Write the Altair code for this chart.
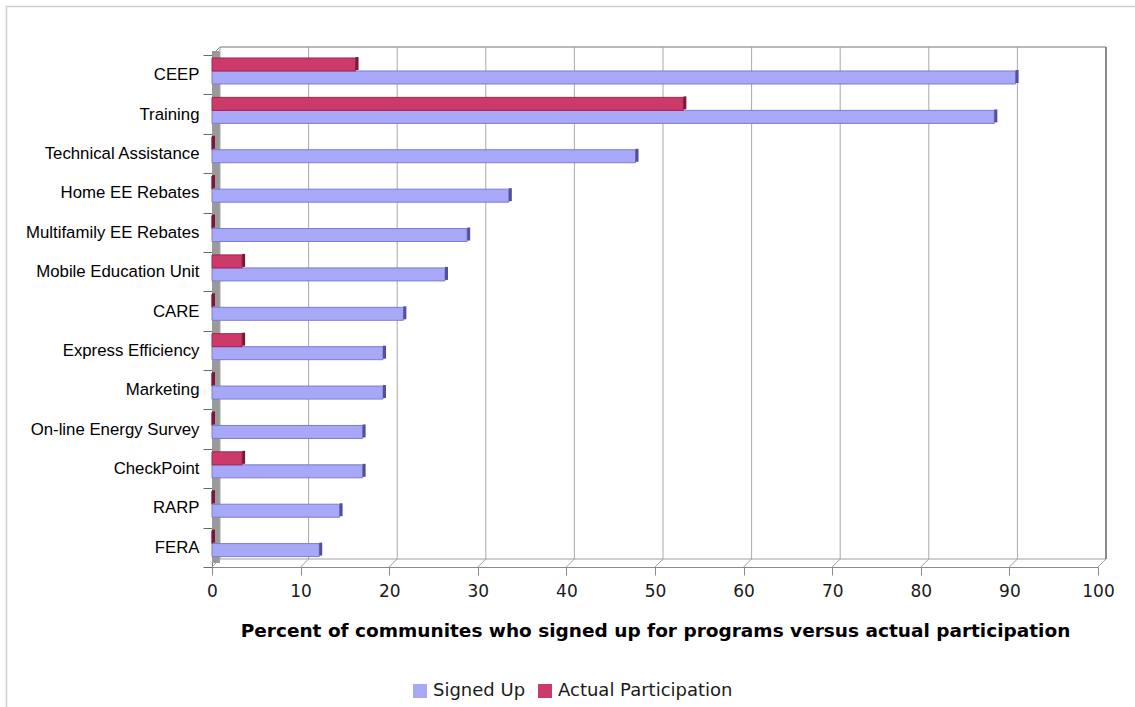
import altair as alt
import pandas as pd

# ---------------- data ----------------
programs = [
    "CEEP", "Training", "Technical Assistance", "Home EE Rebates",
    "Multifamily EE Rebates", "Mobile Education Unit", "CARE",
    "Express Efficiency", "Marketing", "On-line Energy Survey",
    "CheckPoint", "RARP", "FERA",
]
signed_up = [90.7, 88.3, 47.8, 33.5, 28.8, 26.3, 21.6, 19.3, 19.3, 17.0, 17.0, 14.4, 12.1]
actual = [16.2, 53.2, 0, 0, 0, 3.4, 0, 3.4, 0, 0, 3.4, 0, 0]
series = ["Signed Up", "Actual Participation"]
x_ticks = [0, 10, 20, 30, 40, 50, 60, 70, 80, 90, 100]
x_title = "Percent of communites who signed up for programs versus actual participation"

# ---------------- styling ----------------
BLUE, BLUE_EDGE, BLUE_CAP = "#a8a8f8", "#7c7cd2", "#50509c"
RED, RED_EDGE, RED_CAP = "#cc3a6a", "#a02550", "#7a1838"
W, H, D = 886, 512, 8  # plot width, height, 3-D depth in px

df = pd.DataFrame({
    "program": programs * 2,
    "value": signed_up + actual,
    "series": [series[0]] * len(programs) + [series[1]] * len(programs),
})
ticks_df = pd.DataFrame({"v": x_ticks})
frame_df = pd.DataFrame({"lo": [0], "hi": [100]})

xscale = alt.Scale(domain=[0, 100], nice=False, zero=True)
yscale = alt.Scale(paddingInner=0, paddingOuter=0)

xaxis = alt.Axis(
    values=x_ticks, title=x_title, grid=False, labelFlush=False, labelOverlap=False,
    labelFont="DejaVu Sans", labelFontSize=17, labelColor="#1a1a1a", labelPadding=8,
    tickSize=8, tickColor="#8a8a8a", domainColor="#8a8a8a",
    titleFont="DejaVu Sans", titleFontSize=18.5, titleFontWeight="bold", titleColor="#000000",
    titleY=69, titleBaseline="alphabetic",
)
yaxis = alt.Axis(
    title=None, grid=False, tickBand="extent", labelFont="Liberation Sans",
    labelFontSize=16.8, labelColor="#000000", labelPadding=4, labelLimit=300,
    tickSize=9, tickColor="#6a6a6a", domainColor="#7a7a7a",
)
legend = alt.Legend(
    orient="none", legendX=199, legendY=627, direction="horizontal", title=None,
    labelFont="DejaVu Sans", labelFontSize=18, labelColor="#1a1a1a", labelLimit=400,
    symbolType="square", symbolSize=196, symbolStrokeWidth=0, symbolOpacity=1,
    labelOffset=4, columnPadding=10, padding=0,
)
color = alt.Color("series:N", scale=alt.Scale(domain=series, range=[BLUE, RED]), legend=legend)


def X(field):
    return alt.X(field, scale=xscale, axis=xaxis)


def Y():
    return alt.Y("program:N", sort=programs, scale=yscale, axis=yaxis)


one = alt.Chart(frame_df)

# outer light frame
border = one.mark_rect(filled=False, stroke="#cfcfcf", strokeWidth=1.5).encode(
    x=alt.value(-205.5), x2=alt.value(1000), y=alt.value(-48.5), y2=alt.value(700)
)
# grey left wall
wall = one.mark_rect(color="#9a9a9a", x2Offset=D).encode(
    x=X("lo:Q"), x2="lo:Q", y=alt.value(-D / 2), y2=alt.value(H - D / 2),
)
wall_top = one.mark_rule(color="#8a8a8a", x2Offset=D).encode(
    x=X("lo:Q"), x2="lo:Q", y=alt.value(0), y2=alt.value(-D)
)
# back-wall grid lines
grid = alt.Chart(ticks_df).mark_rule(color="#a8a8a8", strokeWidth=1, xOffset=D).encode(
    x=X("v:Q"), y=alt.value(-D), y2=alt.value(H - D)
)
back_top = one.mark_rule(color="#a0a0a0", strokeWidth=1.5, xOffset=D, x2Offset=D).encode(
    x=X("lo:Q"), x2="hi:Q", y=alt.value(-D)
)
back_floor = one.mark_rule(color="#a0a0a0", strokeWidth=1, xOffset=D, x2Offset=D).encode(
    x=X("lo:Q"), x2="hi:Q", y=alt.value(H - D)
)
right_edge = one.mark_rule(color="#8a8a8a", strokeWidth=2, xOffset=D).encode(
    x=X("hi:Q"), y=alt.value(-D), y2=alt.value(H - D)
)
floor_diag = alt.Chart(ticks_df).mark_rule(color="#a0a0a0", strokeWidth=1, x2Offset=D).encode(
    x=X("v:Q"), x2="v:Q", y=alt.value(H), y2=alt.value(H - D)
)

base = alt.Chart(df)
blue = base.transform_filter(alt.datum.series == series[0]).mark_bar(
    size=13, yOffset=2.8, stroke=BLUE_EDGE, strokeWidth=1
).encode(x=X("value:Q"), y=Y(), color=color)
red = base.transform_filter(alt.datum.series == series[1]).mark_bar(
    size=13, yOffset=-10.2, stroke=RED_EDGE, strokeWidth=1
).encode(x=X("value:Q"), y=Y(), color=color)
blue_cap = base.transform_filter(alt.datum.series == series[0]).mark_tick(
    thickness=3, size=13, xOffset=1.5, yOffset=1.8, color=BLUE_CAP, opacity=1
).encode(x=X("value:Q"), y=Y())
red_cap = base.transform_filter(alt.datum.series == series[1]).mark_tick(
    thickness=3, size=13, xOffset=1.5, yOffset=-11.2, color=RED_CAP, opacity=1
).encode(x=X("value:Q"), y=Y())

chart = alt.layer(
    border, wall, grid, back_top, back_floor, right_edge, floor_diag, wall_top,
    blue, red, blue_cap, red_cap,
).properties(
    width=W, height=H,
    padding={"left": 212, "top": 55, "right": 1135 - 212 - W, "bottom": 707 - 55 - H},
    autosize=alt.AutoSizeParams(type="none"),
    background="white",
).configure_view(strokeWidth=0)

chart.save("out.html", embed_options={"renderer": "svg", "actions": False})
